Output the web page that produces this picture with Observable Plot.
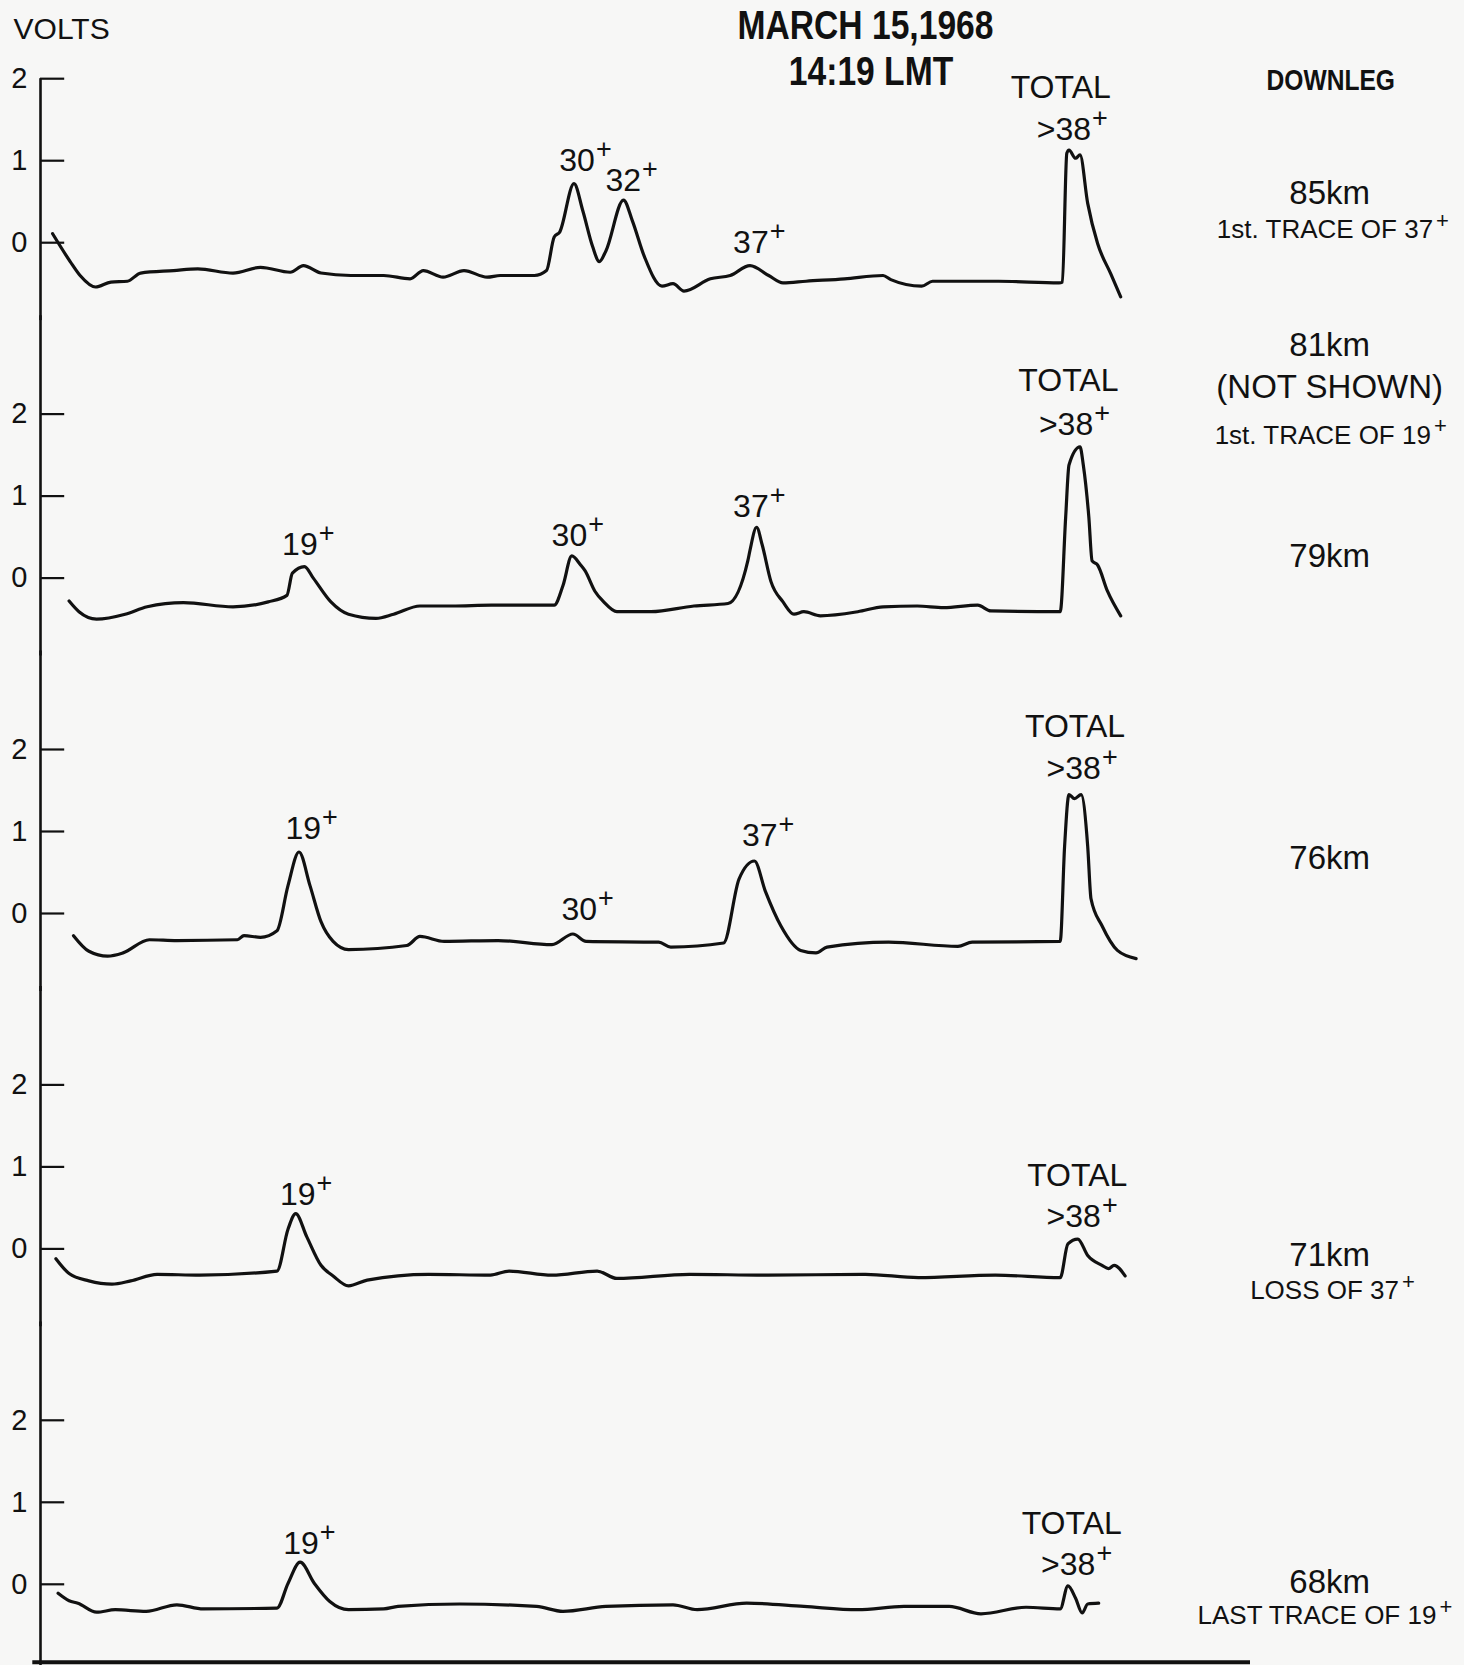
<!DOCTYPE html>
<html>
<head>
<meta charset="utf-8">
<script src="https://cdn.jsdelivr.net/npm/d3@7"></script>
<script src="https://cdn.jsdelivr.net/npm/@observablehq/plot@0.6"></script>
<style>
  html, body { margin: 0; padding: 0; background: #f7f7f6; }
  #chart svg { display: block; }
</style>
</head>
<body>
<div id="chart"></div>
<script>
// Panels (downleg altitude), top to bottom
const panels = ["85km", "79km", "76km", "71km", "68km"];

// Sweep position (relative units 0–100) and collector output (volts), read from the record
const trace85 = [[1.1,0.11],[2.7,-0.23],[3.6,-0.40],[5.0,-0.54],[6.4,-0.48],[7.9,-0.47],[9.1,-0.37],[12.1,-0.34],[14.3,-0.32],[17.5,-0.37],[20.0,-0.30],[22.7,-0.36],[23.9,-0.28],[25.5,-0.37],[28.2,-0.40],[31.2,-0.40],[33.6,-0.44],[34.8,-0.34],[36.6,-0.42],[38.5,-0.34],[40.6,-0.42],[41.8,-0.40],[44.9,-0.40],[46.0,-0.34],[46.7,0.07],[47.2,0.13],[48.5,0.72],[49.3,0.39],[50.2,-0.05],[50.8,-0.23],[51.4,-0.10],[53.0,0.52],[53.8,0.27],[54.9,-0.17],[56.5,-0.53],[57.5,-0.50],[58.5,-0.59],[60.9,-0.44],[62.7,-0.40],[64.5,-0.28],[66.2,-0.40],[67.5,-0.49],[69.6,-0.47],[73.1,-0.44],[76.6,-0.40],[77.3,-0.45],[80.1,-0.53],[81.1,-0.47],[87.1,-0.47],[92.6,-0.49],[92.9,-0.48],[93.3,1.09],[93.5,1.13],[94.1,1.03],[94.5,1.07],[95.2,0.48],[96.1,-0.01],[97.3,-0.38],[98.2,-0.66]];
const trace79 = [[2.6,-0.28],[3.5,-0.41],[5.1,-0.50],[7.7,-0.44],[9.7,-0.35],[13.0,-0.30],[17.5,-0.35],[20.7,-0.29],[22.4,-0.21],[22.9,0.06],[24.0,0.14],[24.8,0.0],[26.4,-0.29],[28.0,-0.44],[30.5,-0.49],[32.1,-0.44],[34.5,-0.34],[37.4,-0.34],[41.0,-0.33],[46.7,-0.33],[47.5,-0.09],[48.3,0.27],[49.1,0.16],[49.5,0.09],[50.4,-0.16],[51.2,-0.29],[52.4,-0.41],[55.5,-0.41],[59.4,-0.34],[62.5,-0.31],[64.3,0.21],[64.5,0.34],[65.1,0.62],[65.6,0.41],[66.4,-0.04],[67.5,-0.29],[68.5,-0.44],[69.4,-0.41],[70.9,-0.46],[74.3,-0.41],[76.6,-0.35],[79.7,-0.34],[82.1,-0.36],[85.2,-0.33],[86.4,-0.40],[92.7,-0.41],[93.2,0.75],[93.5,1.38],[94.5,1.60],[94.8,1.38],[95.3,0.75],[95.6,0.21],[96.1,0.16],[97.0,-0.16],[98.2,-0.46]];
const trace76 = [[3.0,-0.27],[4.4,-0.46],[6.1,-0.52],[7.5,-0.48],[9.9,-0.32],[12.4,-0.33],[17.9,-0.32],[18.5,-0.27],[20.0,-0.29],[21.5,-0.21],[22.5,0.34],[23.5,0.75],[24.5,0.34],[25.5,-0.10],[26.6,-0.34],[28.0,-0.44],[33.3,-0.39],[34.5,-0.28],[36.7,-0.34],[41.6,-0.33],[46.5,-0.38],[48.4,-0.25],[49.6,-0.34],[56.2,-0.35],[57.3,-0.41],[62.1,-0.36],[63.5,0.42],[64.9,0.64],[65.9,0.27],[67.3,-0.15],[69.1,-0.45],[70.5,-0.48],[71.5,-0.41],[77.1,-0.35],[83.4,-0.40],[84.7,-0.35],[92.7,-0.34],[93.1,0.82],[93.5,1.45],[94.0,1.40],[94.6,1.45],[95.2,0.82],[95.5,0.18],[96.5,-0.15],[97.9,-0.45],[99.6,-0.55]];
const trace71 = [[1.4,-0.12],[2.6,-0.30],[4.4,-0.39],[6.5,-0.43],[8.2,-0.39],[10.6,-0.31],[14.5,-0.32],[21.5,-0.27],[22.5,0.24],[23.2,0.43],[24.2,0.15],[25.5,-0.20],[26.6,-0.33],[28.0,-0.45],[29.7,-0.38],[35.3,-0.31],[40.9,-0.32],[42.6,-0.27],[46.5,-0.32],[50.6,-0.27],[52.4,-0.36],[59.0,-0.31],[65.9,-0.32],[75.0,-0.31],[79.8,-0.35],[86.8,-0.32],[92.7,-0.35],[93.4,0.06],[94.3,0.12],[95.2,-0.08],[96.5,-0.20],[97.1,-0.24],[97.6,-0.20],[98.6,-0.33]];
const trace68 = [[1.6,-0.11],[2.6,-0.20],[3.4,-0.23],[5.1,-0.34],[6.8,-0.31],[9.6,-0.33],[12.4,-0.25],[14.8,-0.30],[21.5,-0.29],[22.5,0.01],[23.6,0.27],[24.9,0.01],[26.3,-0.21],[28.0,-0.31],[31.2,-0.30],[32.5,-0.27],[38.1,-0.24],[45.1,-0.27],[47.5,-0.33],[51.4,-0.27],[57.5,-0.25],[59.7,-0.31],[64.2,-0.23],[69.4,-0.27],[74.3,-0.31],[78.5,-0.27],[82.6,-0.27],[85.5,-0.36],[89.6,-0.28],[92.7,-0.30],[93.4,-0.02],[94.1,-0.17],[94.7,-0.35],[95.2,-0.24],[96.2,-0.23]];

const tickValues = [0, 1, 2];

// Peak labels: [panel, label, sweep position, volts, ion superscript]
const peakLabels = [
  ["85km","30",50.4,0.88,true],["85km","32",54.6,0.63,true],["85km","37",66.2,-0.13,true],
  ["85km","TOTAL",97.3,1.77,false],["85km",">38",95.5,1.25,true],
  ["79km","19",25.2,0.28,true],["79km","30",49.7,0.39,true],["79km","37",66.2,0.75,true],
  ["79km","TOTAL",98.0,2.28,false],["79km",">38",95.7,1.75,true],
  ["76km","19",25.5,0.91,true],["76km","30",50.6,-0.08,true],["76km","37",67.0,0.82,true],
  ["76km","TOTAL",98.6,2.15,false],["76km",">38",96.4,1.64,true],
  ["71km","19",25.0,0.54,true],["71km","TOTAL",98.8,0.77,false],["71km",">38",96.4,0.27,true],
  ["68km","19",25.3,0.37,true],["68km","TOTAL",98.3,0.61,false],["68km",">38",95.9,0.11,true]
];

// Altitude notes on the right: [panel, text, volts level]
const altitudeNotes = [
  ["85km","85km",0.60],["79km","81km",2.84],["79km","(NOT SHOWN)",2.32],
  ["79km","79km",0.26],["76km","76km",0.67],["71km","71km",-0.08],["68km","68km",0.02]
];
// Remarks: [panel, text, sweep position of text end, volts level]
const remarks = [
  ["85km","1st. TRACE OF 37",126.6,0.16],["79km","1st. TRACE OF 19",126.4,1.74],
  ["71km","LOSS OF 37",123.5,-0.51],["68km","LAST TRACE OF 19",126.9,-0.38]
];
const titleLines = ["MARCH 15,1968", "14:19 LMT"];
const yLabel = "VOLTS";
const sideHeading = "DOWNLEG";

// ---- build tables ----
const traces = {"85km": trace85, "79km": trace79, "76km": trace76, "71km": trace71, "68km": trace68};
const lineData = panels.flatMap(p => traces[p].map(([x, v]) => ({panel: p, x, v})));
const yMin = -0.95, yMax = 2.3;
const tickData = panels.flatMap(p => tickValues.map(v => ({panel: p, v})));
const axisSegs = panels.map((p, i) => ({panel: p, y1: i === 0 ? 2 : yMax + 0.9, y2: i === panels.length - 1 ? yMin - 0.05 : yMin}));
const labelData = peakLabels.map(([panel, text, x, v, sup]) => ({panel, text, x, v, sup}));
const noteData = altitudeNotes.map(([panel, text, v]) => ({panel, text, v}));
const remarkData = remarks.map(([panel, text, x, v]) => ({panel, text, x, v}));
const topText = [
  {panel: panels[0], text: titleLines[0], x: 75.0, v: 2.49},
  {panel: panels[0], text: titleLines[1], x: 75.5, v: 1.92}
];
const font = "'Liberation Sans', Arial, Helvetica, sans-serif";

const chart = Plot.plot({
  width: 1464,
  height: 1665,
  marginLeft: 40,
  marginRight: 324,
  marginTop: 53.6,
  marginBottom: 3.3,
  style: {background: "#f7f7f6", color: "#111", fontFamily: font},
  x: {domain: [0, 100], axis: null},
  y: {domain: [yMin, yMax]},
  fy: {domain: panels, axis: null, label: null, paddingInner: 0.2054, paddingOuter: 0, round: false},
  marks: [
    Plot.ruleX(axisSegs, {x: 0, y1: "y1", y2: "y2", fy: "panel", stroke: "#111", strokeWidth: 2.6}),
    Plot.ruleY(tickData, {y: "v", x1: 0, x2: 2.2, fy: "panel", stroke: "#111", strokeWidth: 2.2}),
    Plot.axisY({ticks: tickValues, tickSize: 0, tickPadding: 13, fontSize: 29, label: null, tickFormat: d => String(d)}),
    Plot.ruleY(panels.slice(-1).map(p => ({panel: p})), {y: yMin, x1: -0.7, x2: 110, fy: "panel", stroke: "#111", strokeWidth: 4}),
    Plot.line(lineData, {x: "x", y: "v", fy: "panel", curve: "monotone-x", stroke: "#111", strokeWidth: 3.2, strokeLinejoin: "round", strokeLinecap: "round"}),
    // peak labels
    Plot.text(labelData, {x: "x", y: "v", fy: "panel", text: "text", textAnchor: "end", lineAnchor: "bottom", fontSize: 32, fill: "#111"}),
    Plot.text(labelData.filter(d => d.sup), {x: "x", y: "v", fy: "panel", text: () => "+", textAnchor: "start", lineAnchor: "bottom", fontSize: 27, dx: 1, dy: -13, fill: "#111"}),
    // right-hand notes
    Plot.text([{panel: panels[0], text: sideHeading, v: 1.98}], {x: () => 117.3, y: "v", fy: "panel", text: "text", fontSize: 30, fontWeight: "bold", lineAnchor: "middle", fill: "#111"}),
    Plot.text(noteData, {x: () => 117.2, y: "v", fy: "panel", text: "text", fontSize: 33, lineAnchor: "middle", fill: "#111"}),
    Plot.text(remarkData, {x: "x", y: "v", fy: "panel", text: "text", textAnchor: "end", fontSize: 26, lineAnchor: "middle", fill: "#111"}),
    Plot.text(remarkData, {x: "x", y: "v", fy: "panel", text: () => "+", textAnchor: "start", fontSize: 22, lineAnchor: "middle", dx: 3, dy: -9, fill: "#111"}),
    // title and y label
    Plot.text(topText, {x: "x", y: "v", fy: "panel", text: "text", fontSize: 41, fontWeight: "bold", lineAnchor: "bottom", fill: "#111"}),
    Plot.text([{panel: panels[0], text: yLabel, v: 2.48}], {x: () => -2.45, y: "v", fy: "panel", text: "text", textAnchor: "start", lineAnchor: "bottom", fontSize: 30, fill: "#111"})
  ]
});

// condensed bold lettering for title and heading
const condensed = new Set([...titleLines, sideHeading]);
d3.select(chart).selectAll("text").filter(function() { return condensed.has(this.textContent); }).each(function() {
  const t = this.getAttribute("transform");
  if (t) this.setAttribute("transform", t + " scale(0.82,1)");
  else {
    const x = +this.getAttribute("x") || 0, y = +this.getAttribute("y") || 0;
    this.removeAttribute("x"); this.removeAttribute("y");
    this.setAttribute("transform", `translate(${x},${y}) scale(0.82,1)`);
  }
});

document.getElementById("chart").appendChild(chart);
</script>
</body>
</html>
